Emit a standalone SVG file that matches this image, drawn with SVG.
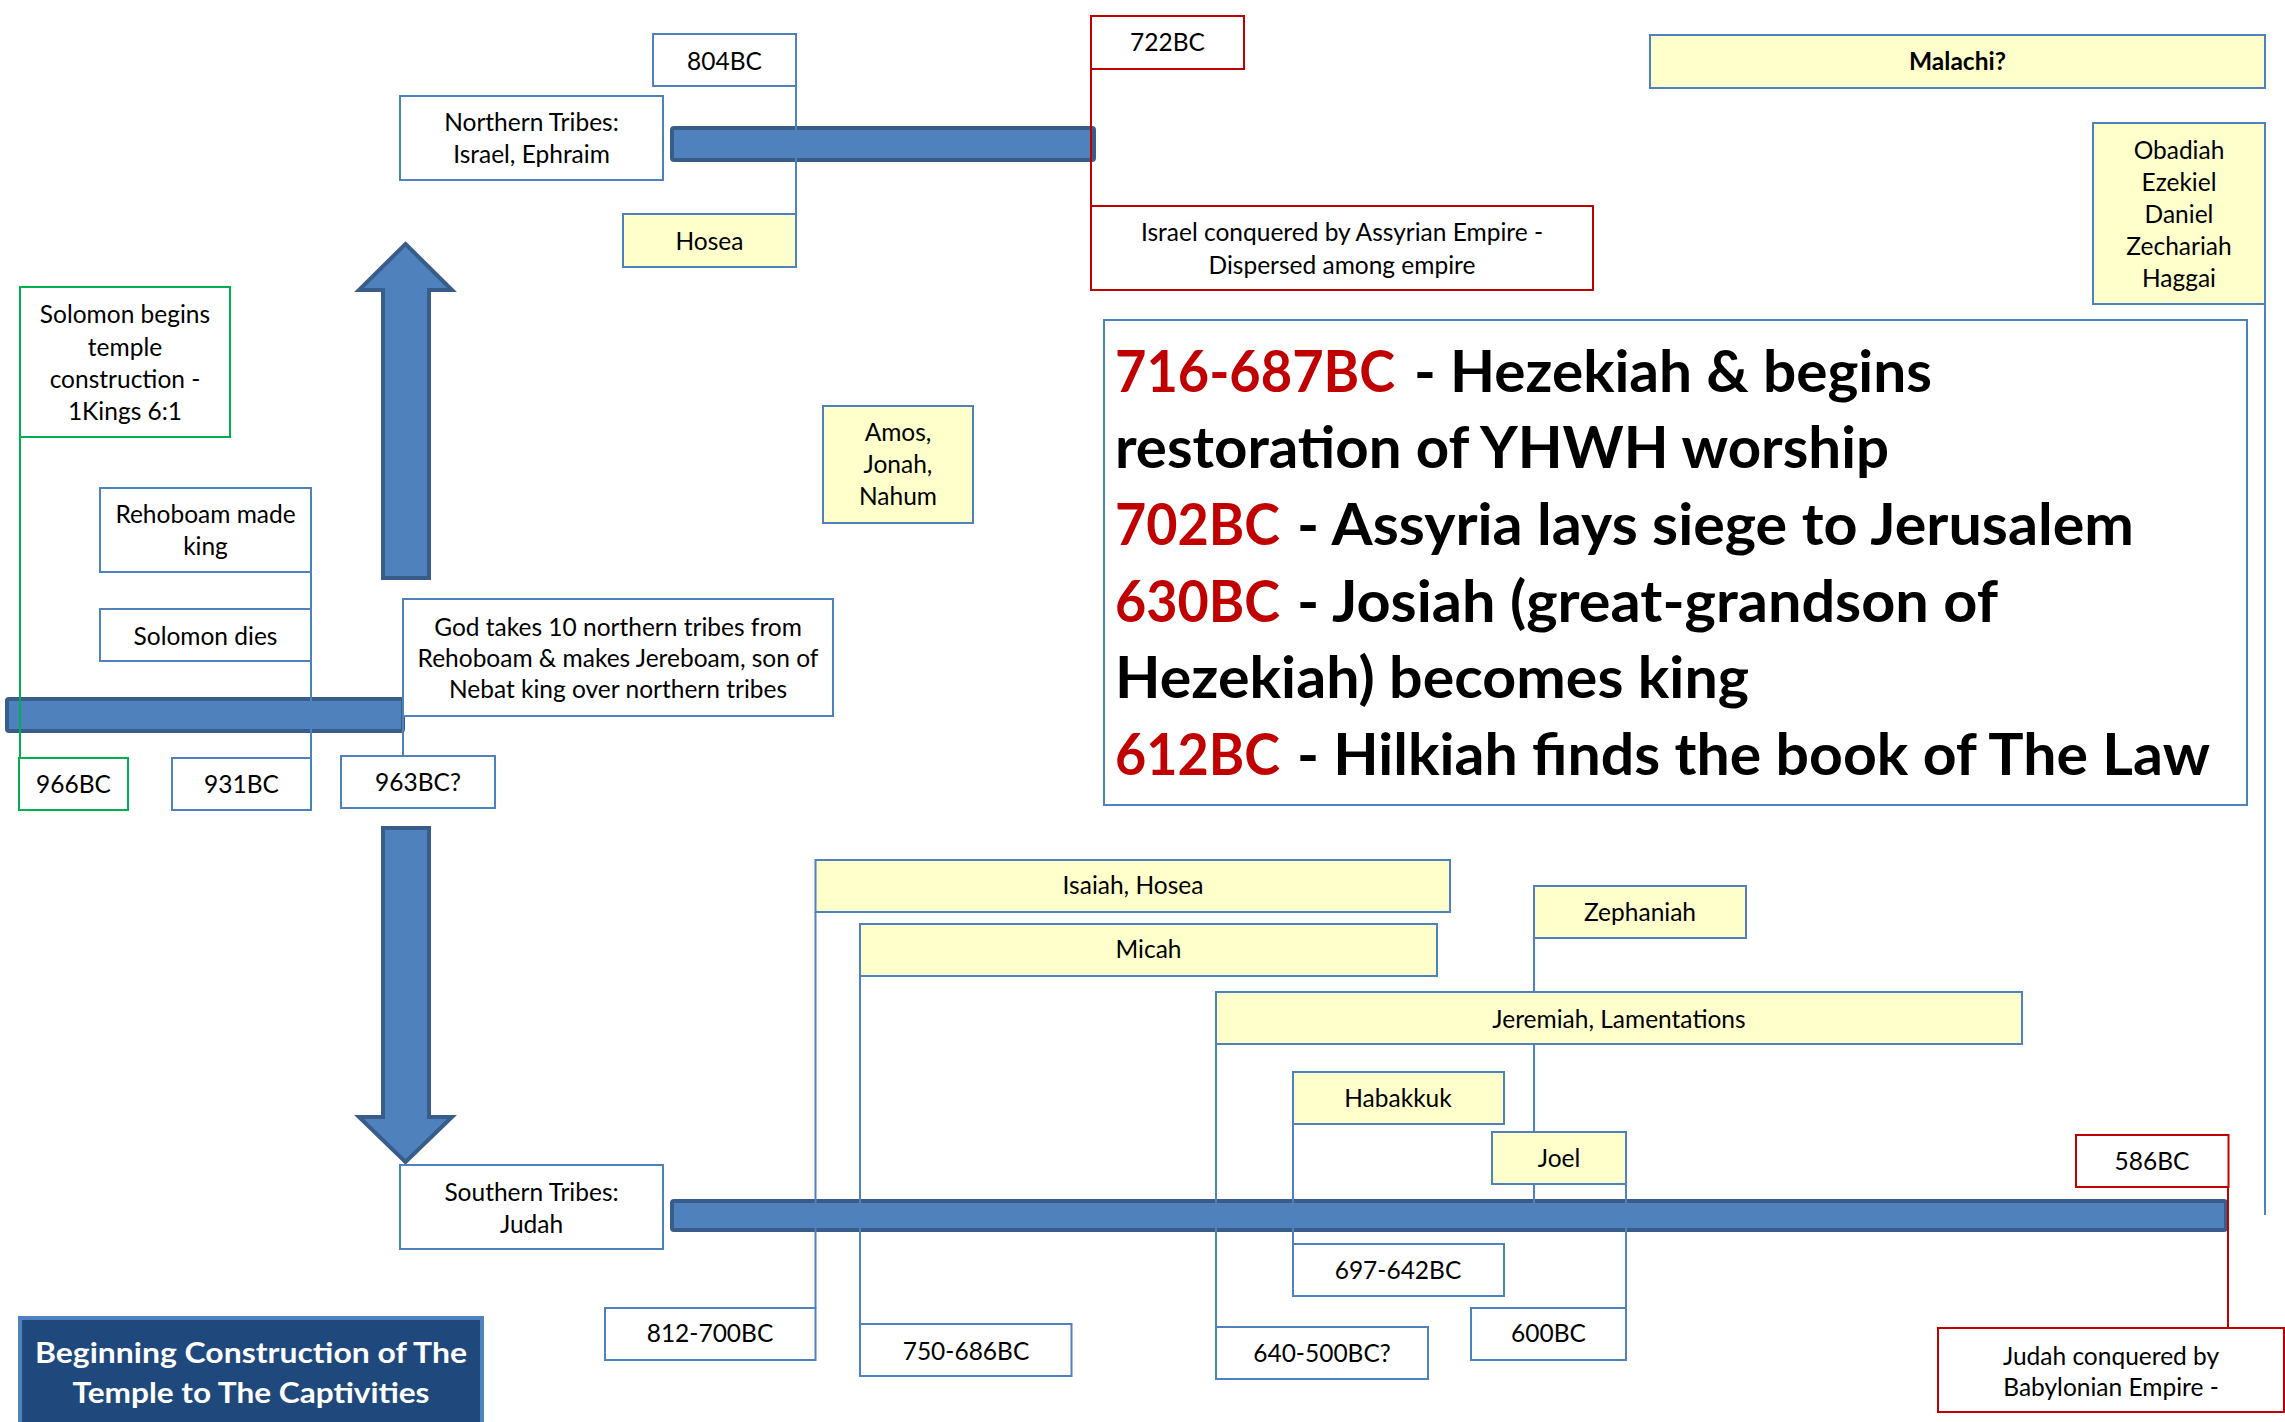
<svg xmlns="http://www.w3.org/2000/svg" width="2285" height="1422" viewBox="0 0 2285 1422">
<style>
text{font-family:Lato,"Liberation Sans",sans-serif;font-size:24.5px;fill:#000;text-anchor:middle}
.b{stroke:#4F81BD;stroke-width:2;fill:#fff}
.y{stroke:#4F81BD;stroke-width:2;fill:#FFFFCC}
.r{stroke:#C00000;stroke-width:2;fill:#fff}
.g{stroke:#00B050;stroke-width:2;fill:#fff}
.bar{fill:#4F81BD;stroke:#385D8A;stroke-width:4}
.ln{stroke:#4F81BD;stroke-width:2;fill:none}
.lr{stroke:#C00000;stroke-width:2;fill:none}
.lg{stroke:#00B050;stroke-width:2;fill:none}
.big{font-size:58px;font-weight:bold;text-anchor:start}
.red{fill:#C00000}
.bold{font-weight:bold}
.ttl{fill:#fff;font-size:28px;font-weight:bold}
</style>
<rect width="2285" height="1422" fill="#fff"/>
<g id="bars">
<rect class="bar" x="7" y="699" width="396" height="32" rx="2"/>
<rect class="bar" x="672" y="128" width="422" height="32" rx="2"/>
<rect class="bar" x="672" y="1201" width="1554" height="29" rx="2"/>
<polygon class="bar" stroke-width="3" points="405.5,244 452,290 429,290 429,578 383,578 383,290 359,290"/>
<polygon class="bar" stroke-width="3" points="383,828 429,828 429,1117 452,1117 405.5,1162 359,1117 383,1117"/>
</g>
<g id="connectors">
<line class="ln" x1="796" y1="86" x2="796" y2="214"/>
<line class="lr" x1="1091" y1="69" x2="1091" y2="206"/>
<line class="lg" x1="20" y1="437" x2="20" y2="758"/>
<line class="ln" x1="311" y1="572" x2="311" y2="758"/>
<line class="ln" x1="403" y1="716" x2="403" y2="756"/>
<line class="ln" x1="2265" y1="304" x2="2265" y2="1215"/>
<line class="ln" x1="815.5" y1="912" x2="815.5" y2="1308"/>
<line class="ln" x1="860" y1="976" x2="860" y2="1324"/>
<line class="ln" x1="1534" y1="938" x2="1534" y2="1210"/>
<line class="ln" x1="1216" y1="1044" x2="1216" y2="1327"/>
<line class="ln" x1="1293" y1="1124" x2="1293" y2="1244"/>
<line class="ln" x1="1626" y1="1184" x2="1626" y2="1308"/>
<line class="lr" x1="2228" y1="1187" x2="2228" y2="1328"/>
</g>
<g id="n804"><rect class="b" x="653" y="34" width="143" height="52"/><text x="724.5" y="70">804BC</text></g>
<g id="northern"><rect class="b" x="400" y="96" width="263" height="84"/><text x="531.5" y="131">Northern Tribes:</text><text x="531.5" y="163">Israel, Ephraim</text></g>
<g id="hosea1"><rect class="y" x="623" y="214" width="173" height="53"/><text x="709.5" y="250">Hosea</text></g>
<g id="solomonBegins"><rect class="g" x="20" y="287" width="210" height="150"/><text x="125" y="323">Solomon begins</text><text x="125" y="356">temple</text><text x="125" y="388">construction -</text><text x="125" y="420">1Kings 6:1</text></g>
<g id="n722"><rect class="r" x="1091" y="16" width="153" height="53"/><text x="1167.5" y="51">722BC</text></g>
<g id="israelConquered"><rect class="r" x="1091" y="206" width="502" height="84"/><text x="1342" y="241">Israel conquered by Assyrian Empire -</text><text x="1342" y="274">Dispersed among empire</text></g>
<g id="malachi"><rect class="y" x="1650" y="35" width="615" height="53"/><text class="bold" x="1957.5" y="70">Malachi?</text></g>
<g id="obadiah"><rect class="y" x="2093" y="123" width="172" height="181"/><text x="2179" y="159">Obadiah</text><text x="2179" y="191">Ezekiel</text><text x="2179" y="223">Daniel</text><text x="2179" y="255">Zechariah</text><text x="2179" y="287">Haggai</text></g>
<g id="amos"><rect class="y" x="823" y="406" width="150" height="117"/><text x="898" y="441">Amos,</text><text x="898" y="473">Jonah,</text><text x="898" y="505">Nahum</text></g>
<g id="summary"><rect class="b" x="1104" y="320" width="1143" height="485"/>
<text class="big red" x="1115" y="392" textLength="280" lengthAdjust="spacingAndGlyphs">716-687BC</text>
<text class="big" x="1414" y="392" textLength="518" lengthAdjust="spacingAndGlyphs">- Hezekiah &amp; begins</text>
<text class="big" x="1115" y="468" textLength="774" lengthAdjust="spacingAndGlyphs">restoration of YHWH worship</text>
<text class="big red" x="1115" y="545" textLength="165" lengthAdjust="spacingAndGlyphs">702BC</text>
<text class="big" x="1297" y="545" textLength="837" lengthAdjust="spacingAndGlyphs">- Assyria lays siege to Jerusalem</text>
<text class="big red" x="1115" y="622" textLength="165" lengthAdjust="spacingAndGlyphs">630BC</text>
<text class="big" x="1297" y="622" textLength="701" lengthAdjust="spacingAndGlyphs">- Josiah (great-grandson of</text>
<text class="big" x="1115" y="698" textLength="634" lengthAdjust="spacingAndGlyphs">Hezekiah) becomes king</text>
<text class="big red" x="1115" y="775" textLength="165" lengthAdjust="spacingAndGlyphs">612BC</text>
<text class="big" x="1297" y="775" textLength="913" lengthAdjust="spacingAndGlyphs">- Hilkiah finds the book of The Law</text>
</g>
<g id="rehoboam"><rect class="b" x="100" y="488" width="211" height="84"/><text x="205.5" y="523">Rehoboam made</text><text x="205.5" y="555">king</text></g>
<g id="solomonDies"><rect class="b" x="100" y="609" width="211" height="52"/><text x="205.5" y="645">Solomon dies</text></g>
<g id="godTakes"><rect class="b" x="403" y="599" width="430" height="117"/><text x="618" y="636">God takes 10 northern tribes from</text><text x="618" y="667">Rehoboam &amp; makes Jereboam, son of</text><text x="618" y="698">Nebat king over northern tribes</text></g>
<g id="n966"><rect class="g" x="19" y="758" width="109" height="52"/><text x="73.5" y="793">966BC</text></g>
<g id="n931"><rect class="b" x="172" y="758" width="139" height="52"/><text x="241.5" y="793">931BC</text></g>
<g id="n963"><rect class="b" x="341" y="756" width="154" height="52"/><text x="418" y="791">963BC?</text></g>
<g id="southern"><rect class="b" x="400" y="1165" width="263" height="84"/><text x="531.5" y="1201">Southern Tribes:</text><text x="531.5" y="1233">Judah</text></g>
<g id="title"><rect x="20" y="1318" width="462" height="106" fill="#1F497D" stroke="#4F81BD" stroke-width="4"/><text class="ttl" x="251" y="1363" textLength="432" lengthAdjust="spacingAndGlyphs">Beginning Construction of The</text><text class="ttl" x="251" y="1403" textLength="357" lengthAdjust="spacingAndGlyphs">Temple to The Captivities</text></g>
<g id="isaiah"><rect class="y" x="815.5" y="860" width="634.5" height="52"/><text x="1133" y="894">Isaiah, Hosea</text></g>
<g id="micah"><rect class="y" x="860" y="924" width="577" height="52"/><text x="1148.5" y="958">Micah</text></g>
<g id="zephaniah"><rect class="y" x="1534" y="886" width="212" height="52"/><text x="1640" y="921">Zephaniah</text></g>
<g id="jeremiah"><rect class="y" x="1216" y="992" width="806" height="52"/><text x="1619" y="1028">Jeremiah, Lamentations</text></g>
<g id="habakkuk"><rect class="y" x="1293" y="1072" width="211" height="52"/><text x="1398" y="1107">Habakkuk</text></g>
<g id="joel"><rect class="y" x="1492" y="1132" width="134" height="52"/><text x="1559" y="1167">Joel</text></g>
<g id="n812"><rect class="b" x="605" y="1308" width="210.5" height="52"/><text x="710" y="1342">812-700BC</text></g>
<g id="n750"><rect class="b" x="860" y="1324" width="211.5" height="52"/><text x="966" y="1360">750-686BC</text></g>
<g id="n697"><rect class="b" x="1293" y="1244" width="211" height="52"/><text x="1398" y="1279">697-642BC</text></g>
<g id="n640"><rect class="b" x="1216" y="1327" width="212" height="52"/><text x="1322" y="1362">640-500BC?</text></g>
<g id="n600"><rect class="b" x="1471" y="1308" width="155" height="52"/><text x="1548.5" y="1342">600BC</text></g>
<g id="n586"><rect class="r" x="2076" y="1135" width="152.5" height="52"/><text x="2152" y="1170">586BC</text></g>
<g id="judahConquered"><rect class="r" x="1938" y="1328" width="346" height="84"/><text x="2111" y="1365">Judah conquered by</text><text x="2111" y="1396">Babylonian Empire -</text></g>
</svg>
